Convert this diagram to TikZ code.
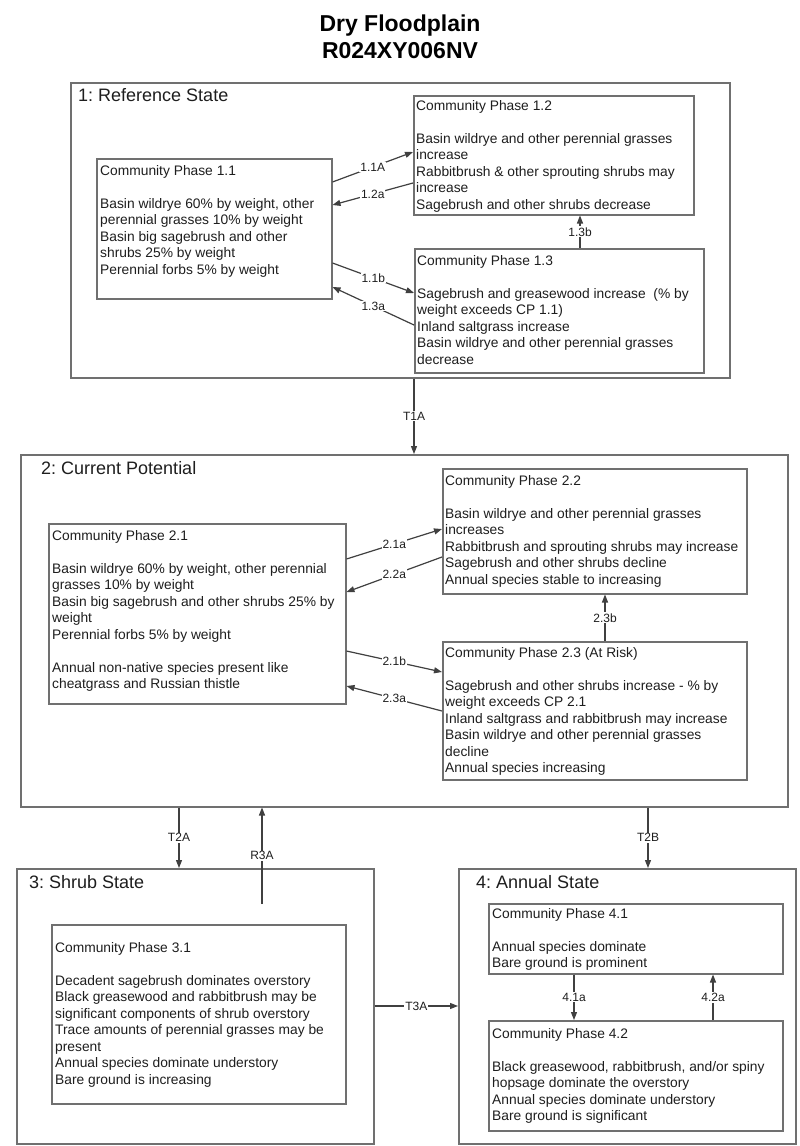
\documentclass[tikz,border=0pt]{standalone}
\usepackage{fontspec}
\setmainfont{Liberation Sans}
\usetikzlibrary{arrows.meta,calc}
\definecolor{boxgray}{HTML}{707070}
\definecolor{arrgray}{HTML}{404040}
\definecolor{txt}{HTML}{1E1E1E}
\frenchspacing
\begin{document}
\begin{tikzpicture}[x=1pt,y=-1pt,
  statebox/.style={draw=boxgray, line width=1.5pt, inner sep=0pt, anchor=north west},
  phasebox/.style={draw=boxgray, line width=1.5pt, inner sep=0pt, anchor=north west},
  phasetext/.style={anchor=north west, inner sep=0pt, align=left, text=txt, font=\fontsize{13.8}{16.5}\selectfont},
  statetitle/.style={anchor=west, inner sep=0pt, text=txt, font=\fontsize{18}{21}\selectfont},
  maintitle/.style={anchor=base, inner sep=0pt, text=black, font=\fontsize{23}{27}\selectfont\bfseries},
  arr/.style={draw=arrgray, line width=1.2pt, -{Triangle[length=8pt,width=6pt]}},
  lbl/.style={fill=white, inner sep=1pt, text=txt, font=\fontsize{12}{14}\selectfont},
]
\fill[white] (0,0) rectangle (800,1146);
\useasboundingbox (0,0) rectangle (800,1146);

% title
\node[maintitle] (title1) at (400,31) {Dry Floodplain};
\node[maintitle] (title2) at (400,58) {R024XY006NV};

% ---------- State 1 ----------
\node[statebox, minimum width=659pt, minimum height=295pt] (s1) at (70,82) {};
\node[statetitle] (t1) at (78,95) {1: Reference State};

\node[phasebox, minimum width=235pt, minimum height=140pt] (p11) at (96,158) {};
\node[phasetext] (x11) at (100,165) {Community Phase 1.1\\[16.5pt]
Basin wildrye 60\% by weight, other\\
perennial grasses 10\% by weight\\
Basin big sagebrush and other\\
shrubs 25\% by weight\\
Perennial forbs 5\% by weight};

\node[phasebox, minimum width=280pt, minimum height=119pt] (p12) at (413,95) {};
\node[phasetext] (x12) at (416,100) {Community Phase 1.2\\[16.5pt]
Basin wildrye and other perennial grasses\\
increase\\
Rabbitbrush \& other sprouting shrubs may\\
increase\\
Sagebrush and other shrubs decrease};

\node[phasebox, minimum width=289pt, minimum height=124pt] (p13) at (414,248) {};
\node[phasetext] (x13) at (417,255) {Community Phase 1.3\\[16.5pt]
Sagebrush and greasewood increase \ (\% by\\
weight exceeds CP 1.1)\\
Inland saltgrass increase\\
Basin wildrye and other perennial grasses\\
decrease};

\draw[arr] ($(p11.north east)+(0,24)$) -- node[lbl]{1.1A} ($(p12.north west)+(0,57)$);
\draw[arr] ($(p12.north west)+(0,88)$) -- node[lbl]{1.2a} ($(p11.north east)+(0,47)$);
\draw[arr] ($(p11.north east)+(0,105)$) -- node[lbl]{1.1b} ($(p13.north west)+(0,45)$);
\draw[arr] ($(p13.north west)+(0,77)$) -- node[lbl]{1.3a} ($(p11.north east)+(0,129)$);
\draw[arr] ($(p13.north west)+(166,0)$) coordinate (a13) -- node[lbl]{1.3b} (a13 |- p12.south);

% ---------- State 2 ----------
\node[statebox, minimum width=767pt, minimum height=352pt] (s2) at (20,454) {};
\node[statetitle] (t2) at (41,468) {2: Current Potential};

\draw[arr] ($(s1.south west)+(344,0)$) coordinate (d1) -- node[lbl]{T1A} (d1 |- s2.north);

\node[phasebox, minimum width=297pt, minimum height=180pt] (p21) at (48,523) {};
\node[phasetext] (x21) at (52,530) {Community Phase 2.1\\[16.5pt]
Basin wildrye 60\% by weight, other perennial\\
grasses 10\% by weight\\
Basin big sagebrush and other shrubs 25\% by\\
weight\\
Perennial forbs 5\% by weight\\[16.5pt]
Annual non-native species present like\\
cheatgrass and Russian thistle};

\node[phasebox, minimum width=304pt, minimum height=125pt] (p22) at (442,468) {};
\node[phasetext] (x22) at (445,475) {Community Phase 2.2\\[16.5pt]
Basin wildrye and other perennial grasses\\
increases\\
Rabbitbrush and sprouting shrubs may increase\\
Sagebrush and other shrubs decline\\
Annual species stable to increasing};

\node[phasebox, minimum width=304pt, minimum height=138pt] (p23) at (442,641) {};
\node[phasetext] (x23) at (445,647) {Community Phase 2.3 (At Risk)\\[16.5pt]
Sagebrush and other shrubs increase - \% by\\
weight exceeds CP 2.1\\
Inland saltgrass and rabbitbrush may increase\\
Basin wildrye and other perennial grasses\\
decline\\
Annual species increasing};

\draw[arr] ($(p21.north east)+(0,36)$) -- node[lbl]{2.1a} ($(p22.north west)+(0,61)$);
\draw[arr] ($(p22.north west)+(0,89)$) -- node[lbl]{2.2a} ($(p21.north east)+(0,69)$);
\draw[arr] ($(p21.north east)+(0,128)$) -- node[lbl]{2.1b} ($(p23.north west)+(0,31)$);
\draw[arr] ($(p23.north west)+(0,70)$) -- node[lbl]{2.3a} ($(p21.north east)+(0,163)$);
\draw[arr] ($(p23.north west)+(163,0)$) coordinate (b23) -- node[lbl]{2.3b} (b23 |- p22.south);

% ---------- State 3 ----------
\node[statebox, minimum width=357pt, minimum height=275pt] (s3) at (16,868) {};
\node[statetitle] (t3) at (29,882) {3: Shrub State};

\node[phasebox, minimum width=294pt, minimum height=179pt] (p31) at (51,924) {};
\node[phasetext] (x31) at (55,942) {Community Phase 3.1\\[16.5pt]
Decadent sagebrush dominates overstory\\
Black greasewood and rabbitbrush may be\\
significant components of shrub overstory\\
Trace amounts of perennial grasses may be\\
present\\
Annual species dominate understory\\
Bare ground is increasing};

% ---------- State 4 ----------
\node[statebox, minimum width=337pt, minimum height=275pt] (s4) at (458,868) {};
\node[statetitle] (t4) at (476,882) {4: Annual State};

\node[phasebox, minimum width=294pt, minimum height=70pt] (p41) at (488,903) {};
\node[phasetext] (x41) at (492,908) {Community Phase 4.1\\[16.5pt]
Annual species dominate\\
Bare ground is prominent};

\node[phasebox, minimum width=294pt, minimum height=110pt] (p42) at (488,1020) {};
\node[phasetext] (x42) at (492,1028) {Community Phase 4.2\\[16.5pt]
Black greasewood, rabbitbrush, and/or spiny\\
hopsage dominate the overstory\\
Annual species dominate understory\\
Bare ground is significant};

\draw[arr] ($(p41.south west)+(86,0)$) coordinate (c41) -- node[lbl]{4.1a} (c41 |- p42.north);
\draw[arr] ($(p42.north west)+(225,0)$) coordinate (c42) -- node[lbl]{4.2a} (c42 |- p41.south);

% ---------- transitions between states ----------
\draw[arr] ($(s2.south west)+(159,0)$) coordinate (d2) -- node[lbl]{T2A} (d2 |- s3.north);
\coordinate (r3) at (262,904);
\draw[arr] (r3) -- node[lbl]{R3A} (r3 |- s2.south);
\draw[arr] ($(s2.south west)+(628,0)$) coordinate (d4) -- node[lbl]{T2B} (d4 |- s4.north);
\draw[arr] ($(s3.north east)+(0,138)$) coordinate (d3) -- node[lbl]{T3A} (d3 -| s4.west);
\end{tikzpicture}
\end{document}
